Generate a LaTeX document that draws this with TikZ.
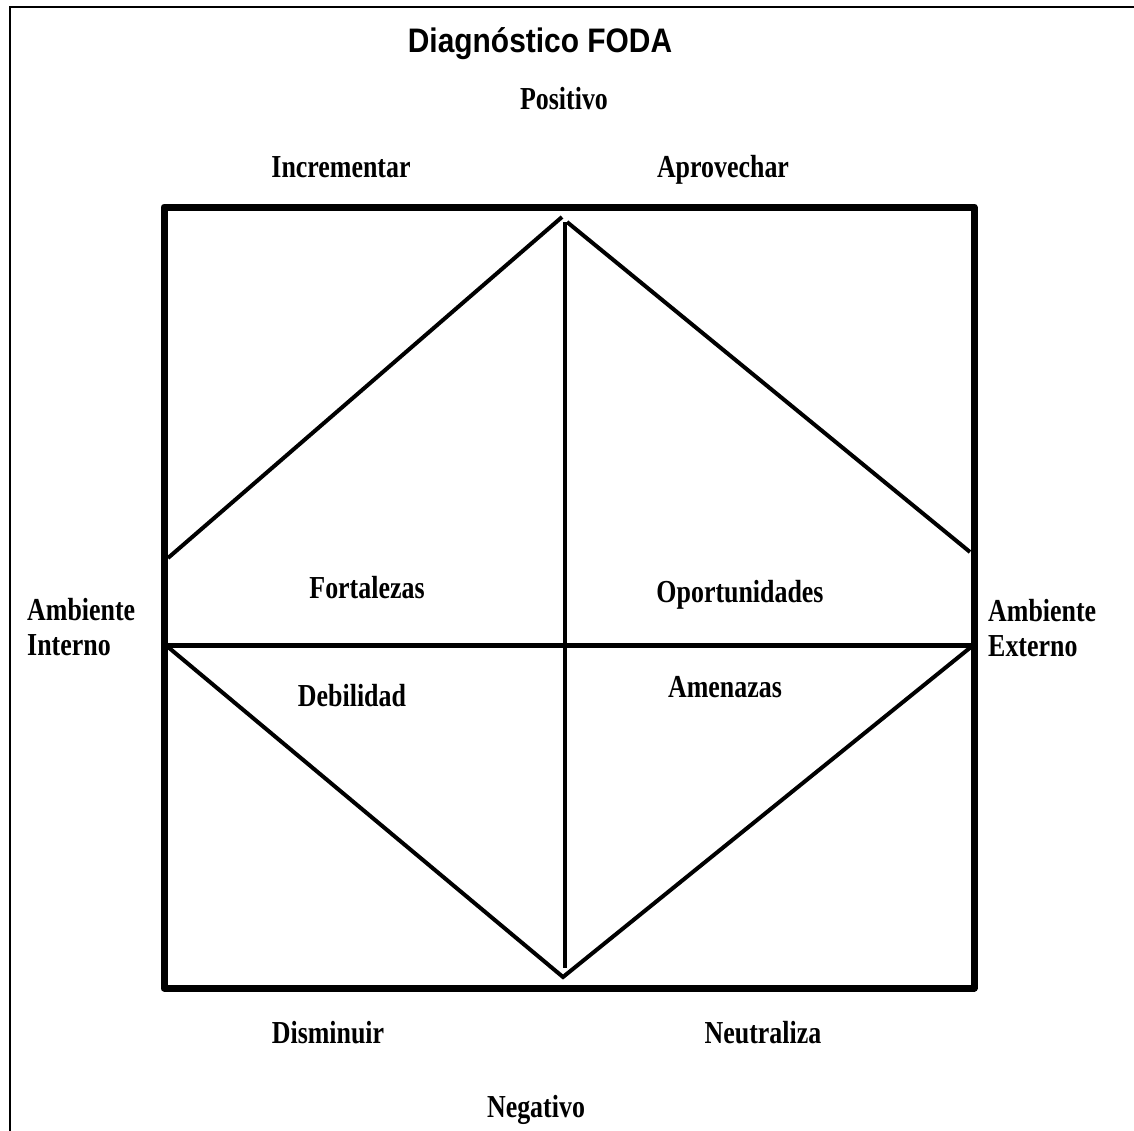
\documentclass[tikz,border=0pt]{standalone}
\usepackage{fontspec}
\newfontfamily\lblfont{Liberation Serif}[FakeStretch=0.81]
\newfontfamily\ttlfont{Liberation Sans}[FakeStretch=0.88]
\begin{document}
\begin{tikzpicture}[x=1pt,y=-1pt,
  lbl/.style={font=\lblfont\bfseries\fontsize{32}{35}\selectfont, inner sep=0pt, anchor=base},
  lblleft/.style={lbl, anchor=base west, align=left},
  ttl/.style={font=\ttlfont\bfseries\fontsize{34}{38}\selectfont, inner sep=0pt, anchor=base},
  frame/.style={line width=2pt},
  bigbox/.style={line width=7pt, line join=round},
  midline/.style={line width=5pt},
  thin/.style={line width=4pt}]
\useasboundingbox (0,0) rectangle (1134,1130);
% outer frame
\coordinate (fbl) at (10,1132);
\coordinate (ftl) at (10,7);
\coordinate (ftr) at (1136,7);
\draw[frame] (fbl) -- (ftl) -- (ftr);
% square
\coordinate (tl) at (164,207);
\coordinate (br) at (974,988);
\draw[bigbox] (tl) rectangle (br);
% middle lines
\coordinate (ml) at (164,645);
\coordinate (mr) at (974,645);
\draw[midline] (ml) -- (mr);
\coordinate (vt) at (565,222);
\coordinate (vb) at (565,968);
\draw[thin] (vt) -- (vb);
% diagonals
\coordinate (ula) at (168,558);
\coordinate (ulb) at (562,217);
\coordinate (ura) at (567,222);
\coordinate (urb) at (970,552);
\coordinate (lla) at (168,647);
\coordinate (apex) at (563,977);
\coordinate (lrb) at (971,647);
\draw[thin] (ula) -- (ulb);
\draw[thin] (ura) -- (urb);
\draw[thin] (lla) -- (apex) -- (lrb);
% texts
\node[ttl] (title) at (540,52) {Diagnóstico FODA};
\node[lbl] (pos) at (564,109) {Positivo};
\node[lbl] (inc) at (341,177) {Incrementar};
\node[lbl] (apr) at (723,177) {Aprovechar};
\node[lbl] (fort) at (367,598) {Fortalezas};
\node[lbl] (opo) at (740,602) {Oportunidades};
\node[lbl] (deb) at (352,706) {Debilidad};
\node[lbl] (ame) at (725,697) {Amenazas};
\node[lblleft] (ai1) at (27,620) {Ambiente};
\node[lblleft] (ai2) at (27,655) {Interno};
\node[lblleft] (ae1) at (988,621) {Ambiente};
\node[lblleft] (ae2) at (988,656) {Externo};
\node[lbl] (dis) at (328,1043) {Disminuir};
\node[lbl] (neu) at (763,1043) {Neutraliza};
\node[lbl] (neg) at (536,1117) {Negativo};
\end{tikzpicture}
\end{document}
